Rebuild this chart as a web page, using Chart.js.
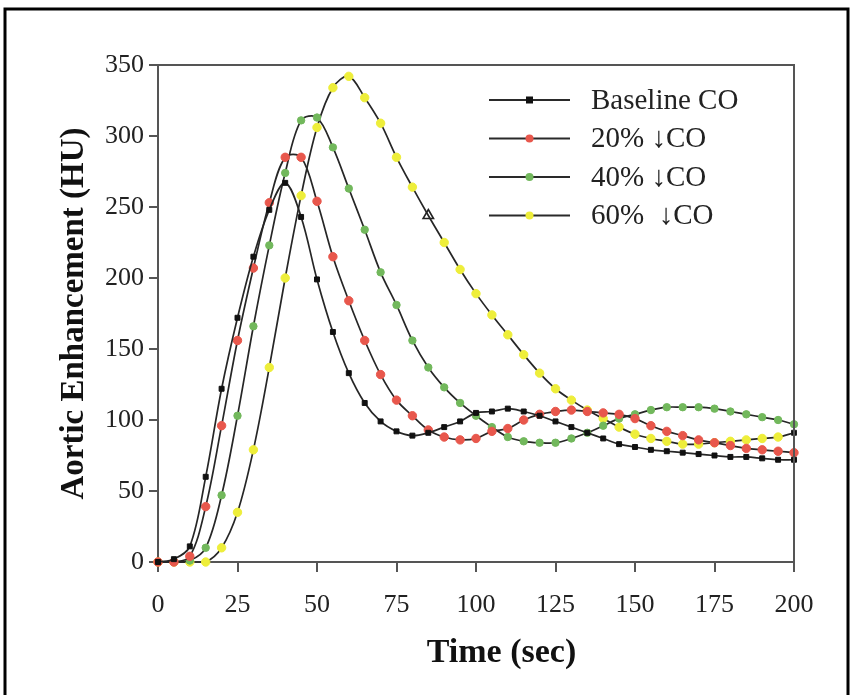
<!DOCTYPE html>
<html>
<head>
<meta charset="utf-8">
<script src="https://cdn.jsdelivr.net/npm/chart.js@4.4.1/dist/chart.umd.min.js"></script>
<style>
  html, body { margin: 0; padding: 0; background: #fff; }
  #wrapper { width: 852px; height: 695px; }
  canvas { display: block; }
</style>
</head>
<body>
<div id="wrapper"><canvas id="diagramm" width="852" height="695"></canvas></div>
<script>
// Zeitpunkte der Messpunkte (alle 5 s)
const zeitSek = [0, 5, 10, 15, 20, 25, 30, 35, 40, 45, 50, 55, 60, 65, 70, 75, 80, 85, 90, 95,
  100, 105, 110, 115, 120, 125, 130, 135, 140, 145, 150, 155, 160, 165, 170, 175, 180, 185, 190, 195, 200];

// Aortenanreicherung in HU
const baselineCO = [0, 2, 11, 60, 122, 172, 215, 248, 267, 243, 199, 162, 133, 112, 99, 92, 89, 91, 95, 99,
  105, 106, 108, 106, 103, 99, 95, 91, 87, 83, 81, 79, 78, 77, 76, 75, 74, 74, 73, 72, 72];
const co20 = [0, 0, 4, 39, 96, 156, 207, 253, 285, 285, 254, 215, 184, 156, 132, 114, 103, 93, 88, 86,
  87, 92, 94, 100, 104, 106, 107, 106, 105, 104, 101, 96, 92, 89, 86, 84, 82, 80, 79, 78, 77];
const co40 = [0, 0, 1, 10, 47, 103, 166, 223, 274, 311, 313, 292, 263, 234, 204, 181, 156, 137, 123, 112,
  103, 95, 88, 85, 84, 84, 87, 91, 96, 101, 104, 107, 109, 109, 109, 108, 106, 104, 102, 100, 97];
const co60 = [0, 0, 0, 0, 10, 35, 79, 137, 200, 258, 306, 334, 342, 327, 309, 285, 264, 244, 225, 206,
  189, 174, 160, 146, 133, 122, 114, 107, 101, 95, 90, 87, 85, 83, 83, 84, 85, 86, 87, 88, 91];

const serienNamen = ["Baseline CO", "20% \u2193CO", "40% \u2193CO", "60%  \u2193CO"];
const serienFarben = ["#111111", "#e8574c", "#72b85c", "#eeee3a"];
const serienSymbole = ["rect", "circle", "circle", "circle"];

function punkte(werte) {
  return werte.map((w, i) => ({ x: zeitSek[i], y: w }));
}

function datensatz(index, werte) {
  return {
    label: serienNamen[index],
    data: punkte(werte),
    borderColor: "#262626",
    borderWidth: 1.7,
    tension: 0.35,
    clip: false,
    pointStyle: serienSymbole[index],
    pointRadius: index === 0 ? 3.5 : index === 2 ? 3.7 : 4.2,
    pointBackgroundColor: serienFarben[index],
    pointBorderColor: serienFarben[index],
    pointBorderWidth: 1,
  };
}

const datensaetze = [
  datensatz(0, baselineCO),
  datensatz(1, co20),
  datensatz(2, co40),
  datensatz(3, co60),
];

// Ausreisser im Original: offenes Dreieck bei 85 s und schwarzer Endpunkt
datensaetze[3].pointStyle = (c) => (c.dataIndex === 17 ? "triangle" : c.dataIndex === 40 ? "rect" : "circle");
datensaetze[3].pointRadius = (c) => (c.dataIndex === 17 ? 6 : c.dataIndex === 40 ? 3.5 : 4.2);
datensaetze[3].pointBorderWidth = (c) => (c.dataIndex === 17 ? 1.6 : 1);
datensaetze[3].pointBackgroundColor = (c) => (c.dataIndex === 17 ? "rgba(255,255,255,0)" : c.dataIndex === 40 ? "#111" : serienFarben[3]);
datensaetze[3].pointBorderColor = (c) => (c.dataIndex === 17 || c.dataIndex === 40 ? "#222" : serienFarben[3]);

const schrift = "'Liberation Serif', 'Times New Roman', serif";

// Rahmen um das Bild und um die Zeichenflaeche
const rahmenPlugin = {
  id: "rahmen",
  beforeDraw(chart) {
    const ctx = chart.ctx;
    ctx.save();
    ctx.fillStyle = "#fff";
    ctx.fillRect(0, 0, chart.width, chart.height);
    ctx.strokeStyle = "#000";
    ctx.lineWidth = 3;
    ctx.beginPath();
    ctx.moveTo(5, chart.height);
    ctx.lineTo(5, 9);
    ctx.lineTo(chart.width - 4, 9);
    ctx.lineTo(chart.width - 4, chart.height);
    ctx.stroke();
    ctx.restore();
  },
  afterDraw(chart) {
    const a = chart.chartArea;
    const ctx = chart.ctx;
    ctx.save();
    ctx.strokeStyle = "#555";
    ctx.lineWidth = 2;
    ctx.beginPath();
    ctx.moveTo(a.left, a.top);
    ctx.lineTo(a.right, a.top);
    ctx.lineTo(a.right, a.bottom);
    ctx.stroke();
    ctx.restore();
  },
};

// Legende wie im Original: Linie mit Symbol in der Mitte
const legendePlugin = {
  id: "legende",
  afterDraw(chart) {
    const a = chart.chartArea;
    const ctx = chart.ctx;
    ctx.save();
    ctx.font = "29px " + schrift;
    ctx.textBaseline = "middle";
    serienNamen.forEach((name, i) => {
      const y = a.top + 35 + i * 38.5;
      const x1 = a.left + 331;
      const x2 = a.left + 412;
      const xm = (x1 + x2) / 2;
      ctx.strokeStyle = "#2a2a2a";
      ctx.lineWidth = 2;
      ctx.beginPath();
      ctx.moveTo(x1, y);
      ctx.lineTo(x2, y);
      ctx.stroke();
      ctx.fillStyle = serienFarben[i];
      if (serienSymbole[i] === "rect") {
        ctx.fillRect(xm - 3.5, y - 3.5, 7, 7);
      } else {
        ctx.beginPath();
        ctx.arc(xm, y, 4, 0, Math.PI * 2);
        ctx.fill();
      }
      ctx.fillStyle = "#222";
      ctx.fillText(name, a.left + 433, y + 1);
    });
    ctx.restore();
  },
};

const canvas = document.getElementById("diagramm").getContext("2d");
const diagramm = new Chart(canvas, {
  type: "line",
  data: { datasets: datensaetze },
  plugins: [rahmenPlugin, legendePlugin],
  options: {
    responsive: false,
    animation: false,
    devicePixelRatio: 1,
    layout: {
      padding: { left: 10, top: 65, right: 58, bottom: 0 },
    },
    plugins: {
      legend: { display: false },
      tooltip: { enabled: false },
    },
    scales: {
      x: {
        type: "linear",
        min: 0,
        max: 200,
        afterFit(s) { s.height = 133; },
        ticks: {
          stepSize: 25,
          color: "#222",
          padding: 18,
          font: { family: schrift, size: 26 },
        },
        grid: { drawOnChartArea: false, tickLength: 10, color: "#555", lineWidth: 2 },
        border: { color: "#555", width: 2 },
        title: {
          display: true,
          // fuehrende Leerzeichen: Titel sitzt im Original etwas rechts der Mitte
          text: "      Time (sec)",
          color: "#111",
          font: { family: schrift, size: 34, weight: "bold" },
          padding: { top: 0, bottom: 21 },
        },
      },
      y: {
        min: 0,
        max: 350,
        afterFit(s) { s.width = 148; },
        ticks: {
          stepSize: 50,
          color: "#222",
          padding: 5,
          font: { family: schrift, size: 26 },
        },
        grid: { drawOnChartArea: false, tickLength: 9, color: "#555", lineWidth: 2 },
        border: { color: "#555", width: 2 },
        title: {
          display: true,
          text: "Aortic Enhancement (HU)",
          color: "#111",
          font: { family: schrift, size: 33, weight: "bold" },
          padding: { top: 45, bottom: 0 },
        },
      },
    },
  },
});
</script>
</body>
</html>
